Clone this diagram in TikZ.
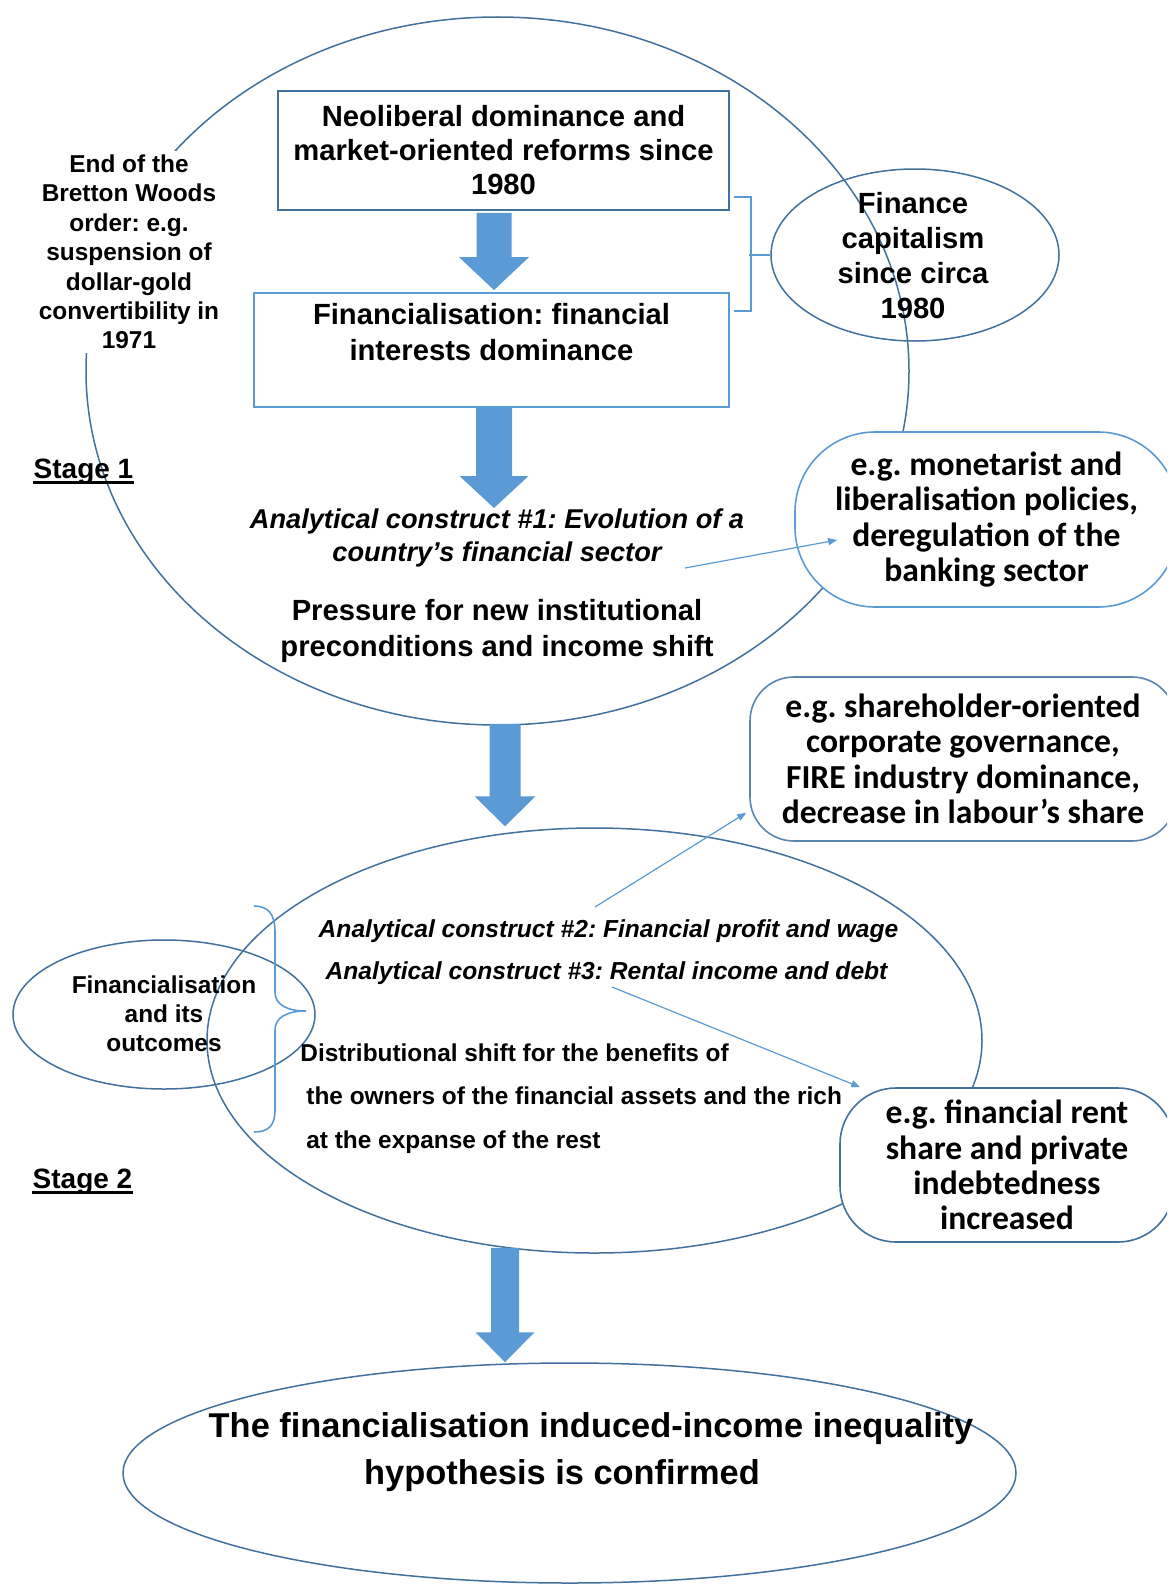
\documentclass[tikz,border=0pt]{standalone}
\usepackage{fontspec}
\setmainfont{Liberation Sans}
\newfontfamily\calibrifont{Carlito}
\usetikzlibrary{shapes.geometric,arrows.meta,calc}

\definecolor{edgeblue}{HTML}{41719C}
\definecolor{lightblue}{HTML}{5B9BD5}
\definecolor{midblue}{HTML}{5A86B0}
\definecolor{arrowfill}{HTML}{5B9BD5}

\tikzset{
  outline/.style={draw=edgeblue, line width=0.75pt},
  oval/.style={ellipse, outline, inner sep=0pt},
  plainbox/.style={rectangle, inner sep=0pt, fill=white, line width=0.9pt},
  pill/.style={rectangle, fill=white, line width=0.8pt, inner sep=0pt, align=center,
    font=\calibrifont\fontsize{16.8}{17.7}\selectfont\bfseries},
  txt/.style={align=center, inner sep=0pt},
  bigbold/.style={txt, font=\fontsize{14.6}{17.5}\selectfont\bfseries},
  smallbold/.style={txt, font=\fontsize{12.2}{14.7}\selectfont\bfseries},
  construct/.style={txt, font=\fontsize{12.3}{15}\selectfont\bfseries\itshape},
  feed/.style={draw=lightblue, line width=0.6pt, -{Triangle[length=4.5pt,width=3.5pt]}},
  bracketline/.style={draw=lightblue, line width=0.8pt},
  stagelabel/.style={inner sep=0pt, font=\fontsize{14}{16}\selectfont\bfseries},
}

% block arrow: #1 start, #2 tip, #3 half shaft, #4 half head, #5 head length
\newcommand{\blockarrow}[5]{%
  \fill[arrowfill] let \p1=(#1), \p2=(#2) in
    (\x1-#3,\y1) -- (\x1+#3,\y1) -- (\x1+#3,\y2+#5) -- (\x1+#4,\y2+#5)
    -- (\x1,\y2) -- (\x1-#4,\y2+#5) -- (\x1-#3,\y2+#5) -- cycle;}

\begin{document}
\frenchspacing
\begin{tikzpicture}[x=0.5pt, y=-0.5pt]
\useasboundingbox (0,0) rectangle (1167,1584);
\fill[white] (0,0) rectangle (1167,1584);
\clip (0,0) rectangle (1167,1584);

% stage outlines
\node[oval, minimum width=411.5pt, minimum height=354pt] (s1) at (497.5,371) {};
\node[oval, minimum width=387.5pt, minimum height=212.5pt] (s2) at (594.5,1040.5) {};
\node[oval, minimum width=151pt, minimum height=74.5pt] (fo) at (164,1014.5) {};
\node[oval, minimum width=446.5pt, minimum height=110pt] (fin) at (569.5,1473) {};
\node[oval, minimum width=144pt, minimum height=86pt] (fc) at (915,255) {};

% historical note breaking the stage 1 outline
\node[smallbold, fill=white, inner sep=2pt] (bw) at (129,252)
  {End of the\\Bretton Woods\\order: e.g.\\suspension of\\dollar-gold\\convertibility in\\1971};

% main boxes
\node[plainbox, draw=edgeblue, minimum width=225.5pt, minimum height=59.5pt,
  txt, font=\fontsize{14.6}{17}\selectfont\bfseries] (b1) at (503.5,150.5)
  {Neoliberal dominance and\\market-oriented reforms since\\1980};
\node[plainbox, draw=lightblue, minimum width=237.5pt, minimum height=57pt] (b2) at (491.5,350) {};
\node[bigbold, font=\fontsize{14.6}{18}\selectfont\bfseries] (b2t) at (491.5,332)
  {Financialisation: financial\\interests dominance};

% example boxes
\node[pill, draw=lightblue, rounded corners=40pt, minimum width=191.5pt, minimum height=87.5pt] (ra)
  at (986.5,519.5) {e.g. monetarist and\\liberalisation policies,\\deregulation of the\\banking sector};
\node[pill, draw=midblue, rounded corners=22pt, minimum width=213pt, minimum height=82pt] (rb)
  at (963,759) {e.g. shareholder-oriented\\corporate governance,\\FIRE industry dominance,\\decrease in labour’s share};
\node[pill, draw=edgeblue, rounded corners=28pt, minimum width=167pt, minimum height=77pt] (rc)
  at (1007,1165) {e.g. financial rent\\share and private\\indebtedness\\increased};

% texts
\node[bigbold] (fct) at (913,255.5) {Finance\\capitalism\\since circa\\1980};
\node[txt, font=\fontsize{13.6}{16.5}\selectfont\bfseries\itshape] (c1) at (497,537.5)
  {Analytical construct \#1: Evolution of a\\country’s financial sector};
\node[bigbold, font=\fontsize{14.6}{18}\selectfont\bfseries] (pr) at (497,631)
  {Pressure for new institutional\\preconditions and income shift};
\node[construct] (c2) at (608.5,931) {Analytical construct \#2: Financial profit and wage};
\node[construct] (c3) at (606.5,973) {Analytical construct \#3: Rental income and debt};
\node[txt, align=left, anchor=west, font=\fontsize{12.2}{21.75}\selectfont\bfseries] (ds) at (300,1098.5)
  {Distributional shift for the benefits of\\\hspace*{3pt}the owners of the financial assets and the rich\\\hspace*{3pt}at the expanse of the rest};
\node[smallbold, font=\fontsize{12.2}{14.5}\selectfont\bfseries] (fot) at (164,1014)
  {Financialisation\\and its\\outcomes};
\node[txt, font=\fontsize{17.2}{23.5}\selectfont\bfseries] (fint) at (591,1452.5)
  {The financialisation induced-income inequality\\hypothesis is confirmed\hspace{29pt}\mbox{}};

% stage labels
\node[stagelabel] (st1) at (83.5,472) {Stage 1};
\draw[line width=1.2pt] ([yshift=-1.8pt]st1.base west) -- ([yshift=-1.8pt]st1.base east);
\node[stagelabel] (st2) at (82.5,1182) {Stage 2};
\draw[line width=1.2pt] ([yshift=-1.8pt]st2.base west) -- ([yshift=-1.8pt]st2.base east);

% flow arrows
\blockarrow{[shift={(-9.5,2)}]b1.south}{[shift={(0,-2)}]b2.north}{8.75pt}{17.5pt}{16.5pt}
\blockarrow{[shift={(2.5,0)}]b2.south}{[shift={(0,-29.5)}]c1.center}{9pt}{17.25pt}{16pt}
\blockarrow{[shift={(7.5,-2)}]s1.south}{[shift={(0,-1)}]s2.north}{7.75pt}{15.25pt}{15pt}
\blockarrow{[shift={(-89.5,-6)}]s2.south}{fin.north}{7pt}{14.75pt}{15pt}

% bracket grouping the two boxes
\draw[bracketline] ([shift={(4.5,46.5)}]b1.east) -- ++(16.5,0) |- ([shift={(4.5,-39)}]b2.east);
\draw[bracketline] (fc.west) -- ++(-21,0);

% brace beside the stage 2 outline
\coordinate (bracetip) at (306,1011);
\draw[bracketline] (254,906) .. controls (268,906) and (275,914) .. (275,932) -- (275,992)
  .. controls (275,1004) and (286,1011) .. (bracetip)
  .. controls (286,1011) and (275,1018) .. (275,1030) -- (275,1110)
  .. controls (275,1126) and (268,1132) .. (254,1132);

% links to examples
\draw[feed] ([shift={(188,30.5)}]c1.center) -- ([shift={(43,20.5)}]ra.west);
\draw[feed] ([shift={(-13.5,-24)}]c2.center) -- ([shift={(-3,-29)}]rb.south west);
\draw[feed] ([shift={(5.5,14)}]c3.center) -- ([shift={(21,0)}]rc.north west);
\end{tikzpicture}
\end{document}
